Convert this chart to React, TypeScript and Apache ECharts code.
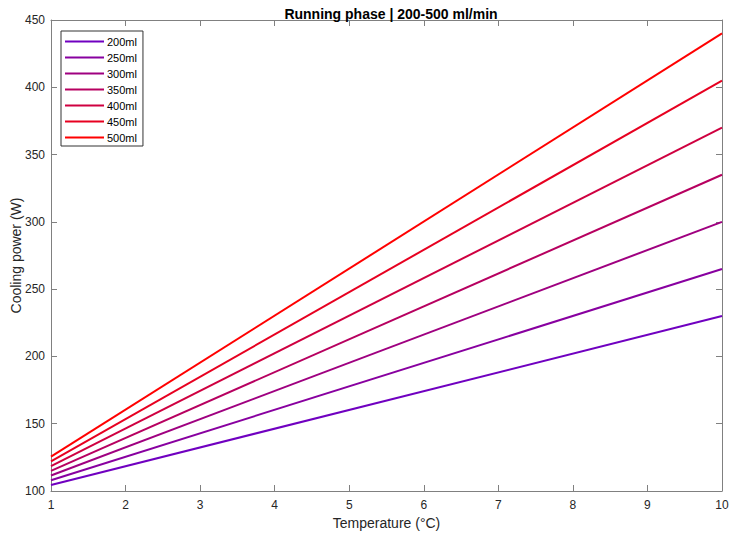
import React, { useEffect, useRef } from "react";
import * as echarts from "echarts";

const temperatures = [1, 10];
const seriesNames = ["200ml", "250ml", "300ml", "350ml", "400ml", "450ml", "500ml"];
const startValues = [104.5, 108, 111.5, 115, 118.5, 122, 125.5];
const endValues = [230, 265, 300, 335, 370, 405, 440];
const colors = ["#7000c0", "#8800a0", "#9f0080", "#b70060", "#cf0040", "#e70020", "#ff0000"];
const xTicks = [1, 2, 3, 4, 5, 6, 7, 8, 9, 10];
const yTicks = [100, 150, 200, 250, 300, 350, 400, 450];

const FONT = "'Liberation Sans', Arial, Helvetica, sans-serif";

export default function App() {
  const ref = useRef<HTMLDivElement>(null);
  useEffect(() => {
    const chart = echarts.init(ref.current!, null, { renderer: "svg" });
    const axisLine = { show: true, lineStyle: { color: "#808080", width: 1 } };
    const axisTick = { show: true, inside: true, length: 6, lineStyle: { color: "#808080" } };
    const series = seriesNames.map((name, i) => ({
      name,
      type: "line",
      data: temperatures.map((t, j) => [t, j === 0 ? startValues[i] : endValues[i]]),
      showSymbol: false,
      symbol: "none",
      lineStyle: { color: colors[i], width: 2 },
      itemStyle: { color: colors[i] },
      xAxisIndex: 0,
      yAxisIndex: 0,
    }));
    chart.setOption({
      animation: false,
      backgroundColor: "#ffffff",
      textStyle: { fontFamily: FONT },
      title: {
        text: "Running phase | 200-500 ml/min",
        left: 386,
        top: 2,
        textAlign: "center",
        textStyle: { fontFamily: FONT, fontSize: 14, fontWeight: "bold", color: "#000" },
      },
      graphic: [
        {
          type: "text",
          x: 15.5,
          y: 255.5,
          rotation: Math.PI / 2,
          style: {
            text: "Cooling power (W)",
            fontFamily: FONT,
            fontSize: 14,
            fill: "#262626",
            textAlign: "center",
            textVerticalAlign: "middle",
          },
        },
      ],
      grid: { left: 51, right: 8, top: 20, bottom: 44, containLabel: false, outerBoundsMode: "none" },
      legend: {
        orient: "vertical",
        left: 61,
        top: 31,
        data: seriesNames,
        icon: "rect",
        itemWidth: 39,
        itemHeight: 2,
        itemGap: 5,
        padding: [5, 6, 3, 4],
        borderColor: "#333",
        borderWidth: 1,
        backgroundColor: "#fff",
        textStyle: { fontFamily: FONT, fontSize: 11, color: "#000", padding: [0, 0, 0, -2] },
      },
      xAxis: [
        {
          type: "value",
          min: 1,
          max: 10,
          interval: 1,
          name: "Temperature (°C)",
          nameLocation: "middle",
          nameGap: 25,
          nameTextStyle: { fontFamily: FONT, fontSize: 14, color: "#262626" },
          axisLine,
          axisTick,
          splitLine: { show: false },
          axisLabel: {
            fontFamily: FONT,
            fontSize: 12,
            color: "#262626",
            margin: 8,
            formatter: (v: number) => (xTicks.includes(v) ? String(v) : ""),
          },
        },
        {
          type: "value",
          position: "top",
          min: 1,
          max: 10,
          interval: 1,
          axisLine,
          axisTick,
          splitLine: { show: false },
          axisLabel: { show: false },
        },
      ],
      yAxis: [
        {
          type: "value",
          min: 100,
          max: 450,
          interval: 50,
          axisLine,
          axisTick,
          splitLine: { show: false },
          axisLabel: {
            fontFamily: FONT,
            fontSize: 12,
            color: "#262626",
            margin: 6,
            formatter: (v: number) => (yTicks.includes(v) ? String(v) : ""),
          },
        },
        {
          type: "value",
          position: "right",
          min: 100,
          max: 450,
          interval: 50,
          axisLine,
          axisTick,
          splitLine: { show: false },
          axisLabel: { show: false },
        },
      ],
      series,
    });
    return () => chart.dispose();
  }, []);
  return <div ref={ref} style={{ width: 730, height: 535, position: "absolute", left: 0, top: 0 }} />;
}
